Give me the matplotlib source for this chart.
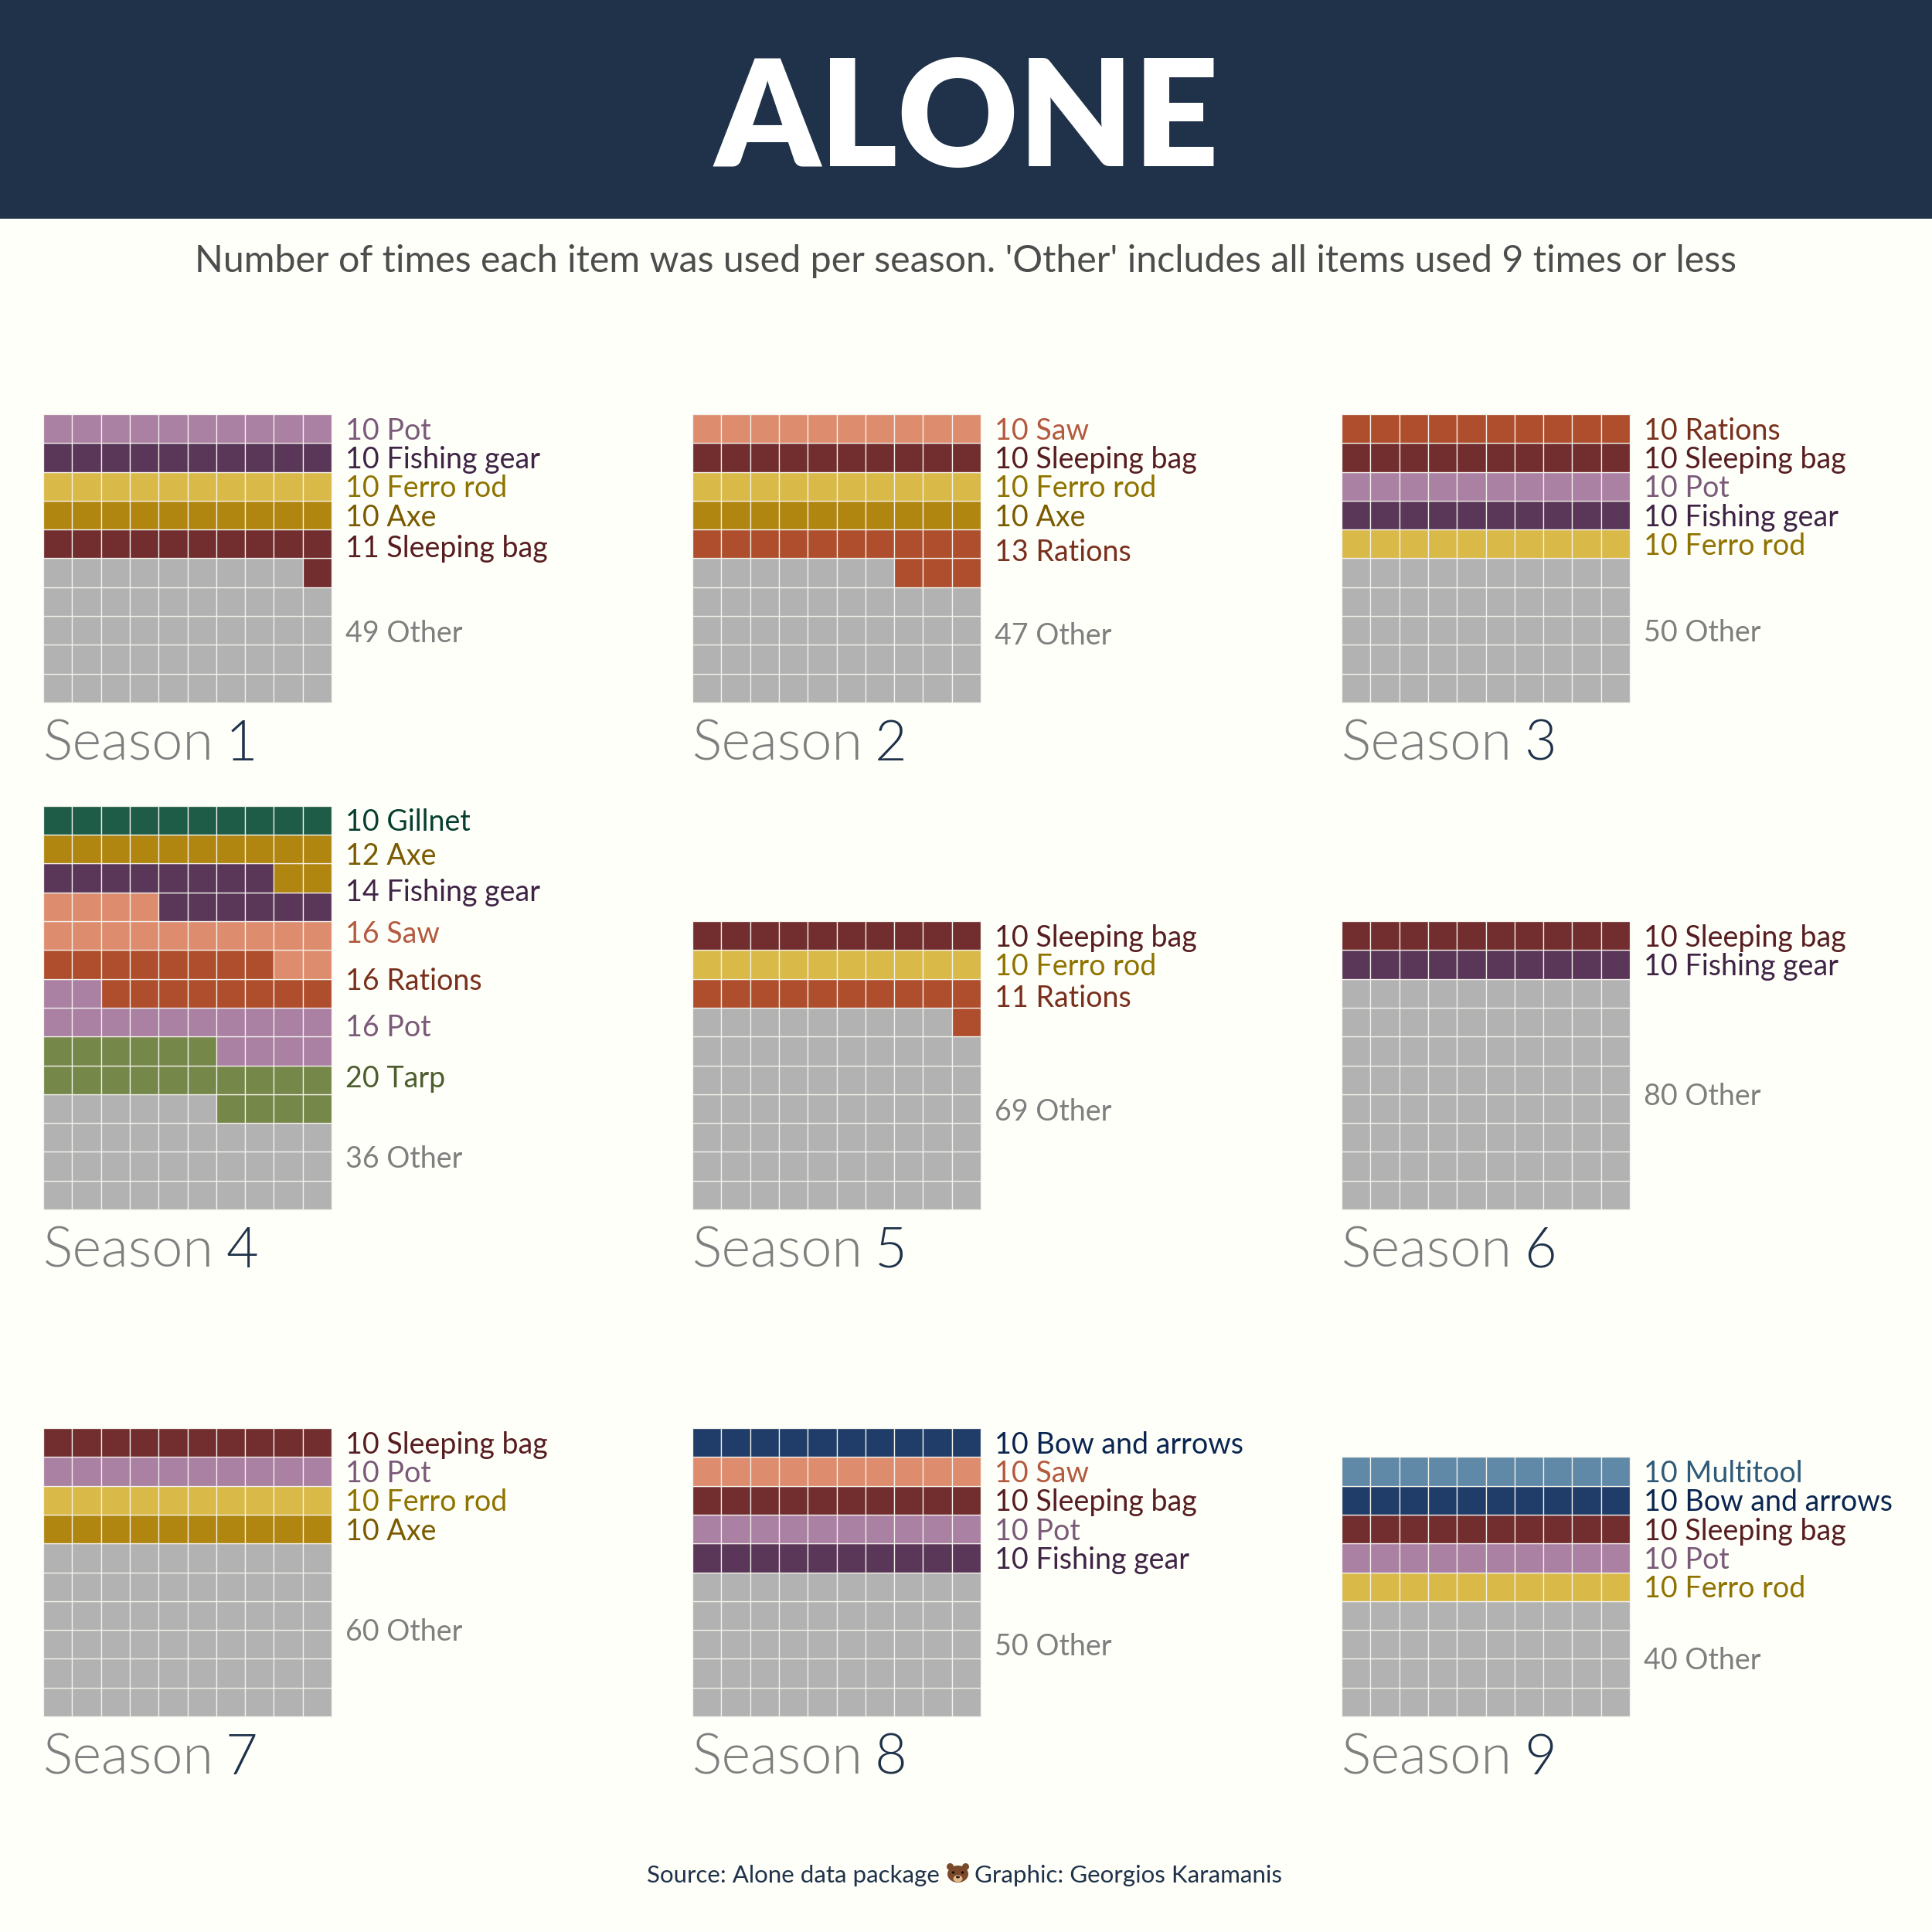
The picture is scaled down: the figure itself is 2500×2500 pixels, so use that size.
import matplotlib
matplotlib.use("Agg")
import matplotlib.pyplot as plt
from matplotlib.patches import Circle, Ellipse, Rectangle
import numpy as np

# values, top item first
season_1_items = ["Pot", "Fishing gear", "Ferro rod", "Axe", "Sleeping bag", "Other"]
season_1_counts = [10, 10, 10, 10, 11, 49]
season_2_items = ["Saw", "Sleeping bag", "Ferro rod", "Axe", "Rations", "Other"]
season_2_counts = [10, 10, 10, 10, 13, 47]
season_3_items = ["Rations", "Sleeping bag", "Pot", "Fishing gear", "Ferro rod", "Other"]
season_3_counts = [10, 10, 10, 10, 10, 50]
season_4_items = ["Gillnet", "Axe", "Fishing gear", "Saw", "Rations", "Pot", "Tarp", "Other"]
season_4_counts = [10, 12, 14, 16, 16, 16, 20, 36]
season_5_items = ["Sleeping bag", "Ferro rod", "Rations", "Other"]
season_5_counts = [10, 10, 11, 69]
season_6_items = ["Sleeping bag", "Fishing gear", "Other"]
season_6_counts = [10, 10, 80]
season_7_items = ["Sleeping bag", "Pot", "Ferro rod", "Axe", "Other"]
season_7_counts = [10, 10, 10, 10, 60]
season_8_items = ["Bow and arrows", "Saw", "Sleeping bag", "Pot", "Fishing gear", "Other"]
season_8_counts = [10, 10, 10, 10, 10, 50]
season_9_items = ["Multitool", "Bow and arrows", "Sleeping bag", "Pot", "Ferro rod", "Other"]
season_9_counts = [10, 10, 10, 10, 10, 40]

all_items = [season_1_items, season_2_items, season_3_items,
             season_4_items, season_5_items, season_6_items,
             season_7_items, season_8_items, season_9_items]
all_counts = [season_1_counts, season_2_counts, season_3_counts,
              season_4_counts, season_5_counts, season_6_counts,
              season_7_counts, season_8_counts, season_9_counts]

fill_colors = {
    "Pot": "#AA80A3", "Fishing gear": "#5A3759", "Ferro rod": "#D9B948",
    "Axe": "#B08510", "Sleeping bag": "#722D2F", "Saw": "#DE8C6E",
    "Rations": "#AF4E2D", "Gillnet": "#1F5C48", "Tarp": "#758849",
    "Other": "#B2B2B2", "Bow and arrows": "#1F3D68", "Multitool": "#5F89A6",
}
text_colors = {
    "Pot": "#7A5A78", "Fishing gear": "#3F2445", "Ferro rod": "#8F7300",
    "Axe": "#7A5B00", "Sleeping bag": "#571D20", "Saw": "#B35A3F",
    "Rations": "#78301C", "Gillnet": "#063F30", "Tarp": "#4D5E2E",
    "Other": "#7F7F7F", "Bow and arrows": "#0A2550", "Multitool": "#2F5A78",
}

BG = "#FFFFFA"
NAVY = "#1F3249"
FONT = "Lato"
SIZE = 2500
DPI = 250
CELL = 37.3
left_px = [56, 896, 1736]
bottom_px = [909, 1565, 2221]


def px(n):
    """pixels of the final image to points"""
    return n * 72 / DPI


plt.rcParams["font.family"] = [FONT, "DejaVu Sans"]
fig = plt.figure(figsize=(SIZE / DPI, SIZE / DPI), dpi=DPI, facecolor=BG)

# page axes in image pixels, for the band and the texts around the panels
page = fig.add_axes([0, 0, 1, 1])
page.set_xlim(0, SIZE)
page.set_ylim(SIZE, 0)
page.axis("off")

page.add_patch(Rectangle((0, 0), SIZE, 283, color=NAVY, lw=0))
page.text(1251, 159, "ALONE", color="white", fontsize=px(192), fontweight=800,
          ha="center", va="center")
page.text(1250, 338, "Number of times each item was used per season. "
          "'Other' includes all items used 9 times or less",
          color="#4D4D4D", fontsize=px(48.4), ha="center", va="center")

page.text(1216, 2427, "Source: Alone data package", color=NAVY, fontsize=px(31.2),
          ha="right", va="center")
page.text(1261, 2427, "Graphic: Georgios Karamanis", color=NAVY, fontsize=px(31.2),
          ha="left", va="center")

# the bear emoji is not in any installed font, so it is drawn
bear = "#7B4A2A"
for dx in (-10, 10):
    page.add_patch(Circle((1239.5 + dx, 2415.5), 4.5, color=bear, lw=0))
page.add_patch(Ellipse((1239.5, 2425), 27, 22, color=bear, lw=0))
page.add_patch(Ellipse((1239.5, 2431), 12, 9, color="#E0B98A", lw=0))
page.add_patch(Ellipse((1239.5, 2429), 5, 3, color="#2A1A10", lw=0))
for dx in (-6, 6):
    page.add_patch(Circle((1239.5 + dx, 2423), 1.7, color="#1A100A", lw=0))

for i, (items, counts) in enumerate(zip(all_items, all_counts)):
    n_rows = int(np.ceil(sum(counts) / 10))
    x0 = left_px[i % 3]
    y0 = bottom_px[i // 3]
    ax = fig.add_axes([x0 / SIZE, 1 - y0 / SIZE,
                       10 * CELL / SIZE, n_rows * CELL / SIZE])
    ax.set_xlim(0, 10)
    ax.set_ylim(0, n_rows)
    ax.axis("off")

    # fill from the bottom left with the last item first
    cell = 0
    for item, count in zip(items[::-1], counts[::-1]):
        idx = np.arange(cell, cell + count)
        xs = idx % 10
        ys = idx // 10
        ax.bar(xs + 0.5, 1, bottom=ys, width=1, color=fill_colors[item],
               edgecolor="#F4F2EC", linewidth=px(1.3), clip_on=False)
        ax.text(10.49, ys.mean() + 0.5 - 0.08, f"{count} {item}",
                color=text_colors[item], fontsize=px(37.6), ha="left", va="center")
        cell += count

    word = ax.annotate("Season", xy=(0, 0), xytext=(0, -px(75)),
                       textcoords="offset points", color="#7F7F7F",
                       fontsize=px(72), fontweight=300, ha="left", va="baseline")
    ax.annotate(str(i + 1), xy=(1, 0), xycoords=word, xytext=(px(15), 0),
                textcoords="offset points", color=NAVY, fontsize=px(72),
                fontweight=300, ha="left", va="bottom")

fig.savefig("out.png", dpi=DPI, facecolor=BG)
